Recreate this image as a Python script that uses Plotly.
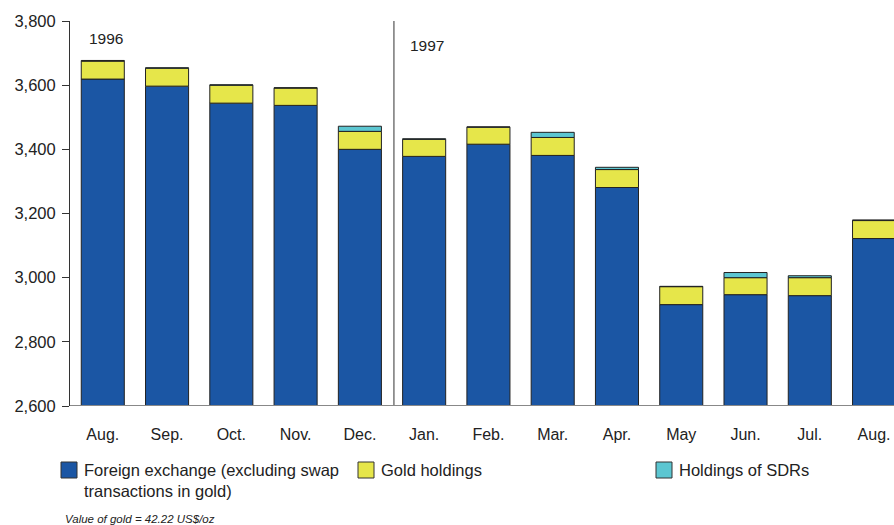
import plotly.graph_objects as go

months = ["Aug.", "Sep.", "Oct.", "Nov.", "Dec.", "Jan.", "Feb.", "Mar.", "Apr.", "May", "Jun.", "Jul.", "Aug."]
foreign_exchange = [3619, 3597, 3544, 3537, 3400, 3378, 3416, 3381, 3281, 2916, 2947, 2944, 3122]
gold_holdings = [56, 56, 56, 54, 56, 53, 53, 56, 56, 56, 53, 56, 56]
sdr_holdings = [2, 1, 1, 1, 16, 2, 1, 16, 7, 1, 16, 6, 2]
y_ticks = [2600, 2800, 3000, 3200, 3400, 3600, 3800]
year_labels = ["1996", "1997"]

BASE = 2600
FONT = "Liberation Sans, Arial, sans-serif"
colors = ["#1b56a4", "#e6e64a", "#5cc6d1"]
names = ["Foreign exchange (excluding swap<br>transactions in gold)", "Gold holdings", "Holdings of SDRs"]

x = list(range(len(months)))
fig = go.Figure()
bottoms = [BASE] * len(months)
for vals, col, nm, is_first in [(foreign_exchange, colors[0], names[0], True),
                                (gold_holdings, colors[1], names[1], False),
                                (sdr_holdings, colors[2], names[2], False)]:
    heights = [v - BASE for v in vals] if is_first else vals
    fig.add_trace(go.Bar(
        x=x, y=heights, base=bottoms, name=nm, marker_color=col,
        marker_line=dict(color="#222222", width=1), width=0.67, showlegend=False,
    ))
    bottoms = [b + h for b, h in zip(bottoms, heights)]

# plot-area pixel mapping
L, R, T, B = 70, 894, 21, 406
W, H = R - L, B - T

def px(xp):
    return (xp - L) / W

def py(yp):
    return (B - yp) / H

shapes = [
    dict(type="line", xref="x", yref="y", x0=4.53, x1=4.53, y0=BASE, y1=3800,
         line=dict(color="#333333", width=1)),
]
annotations = [
    dict(x=0.05, y=3745, xref="x", yref="y", text=year_labels[0], showarrow=False,
         font=dict(family=FONT, size=15.5, color="#222"), xanchor="center"),
    dict(x=5.05, y=3725, xref="x", yref="y", text=year_labels[1], showarrow=False,
         font=dict(family=FONT, size=15.5, color="#222"), xanchor="center"),
]
# custom legend
legend_items = [(61, names[0], colors[0]), (358, names[1], colors[1]), (656, names[2], colors[2])]
for lx, nm, col in legend_items:
    shapes.append(dict(type="rect", xref="paper", yref="paper",
                       x0=px(lx), x1=px(lx + 16), y0=py(478), y1=py(462),
                       fillcolor=col, line=dict(color="#333333", width=1)))
    annotations.append(dict(x=px(lx + 21), y=py(459), xref="paper", yref="paper",
                            text=nm, showarrow=False, xanchor="left", yanchor="top",
                            align="left", font=dict(family=FONT, size=16.5, color="#222")))
annotations.append(dict(x=px(63), y=py(511), xref="paper", yref="paper",
                        text="<i>Value of gold = 42.22 US$/oz</i>", showarrow=False,
                        xanchor="left", yanchor="top",
                        font=dict(family=FONT, size=11.5, color="#222")))

fig.update_layout(
    width=894, height=525,
    margin=dict(l=L, r=894 - R, t=T, b=525 - B),
    paper_bgcolor="white", plot_bgcolor="white",
    barmode="overlay",
    shapes=shapes, annotations=annotations,
    xaxis=dict(range=[-0.51, 12.31], tickmode="array", tickvals=x, ticktext=months,
               showgrid=False, zeroline=False, showline=False,
               ticks="outside", ticklen=14, tickcolor="rgba(0,0,0,0)",
               tickfont=dict(family=FONT, size=16, color="#222")),
    yaxis=dict(range=[BASE, 3800], tickvals=y_ticks, tickformat=",d",
               showgrid=False, zeroline=False, showline=True, linecolor="#333333",
               linewidth=1, ticks="outside", ticklen=7, tickcolor="#333333",
               ticklabelstandoff=3,
               tickfont=dict(family=FONT, size=16.5, color="#222")),
)
# baseline
fig.add_shape(type="line", xref="paper", yref="y", x0=0, x1=1, y0=BASE, y1=BASE,
              line=dict(color="#888888", width=2), layer="above")

fig.write_html("out.html", config={"displayModeBar": False},
               post_script="document.body.style.margin='0';document.body.style.overflow='hidden';")
